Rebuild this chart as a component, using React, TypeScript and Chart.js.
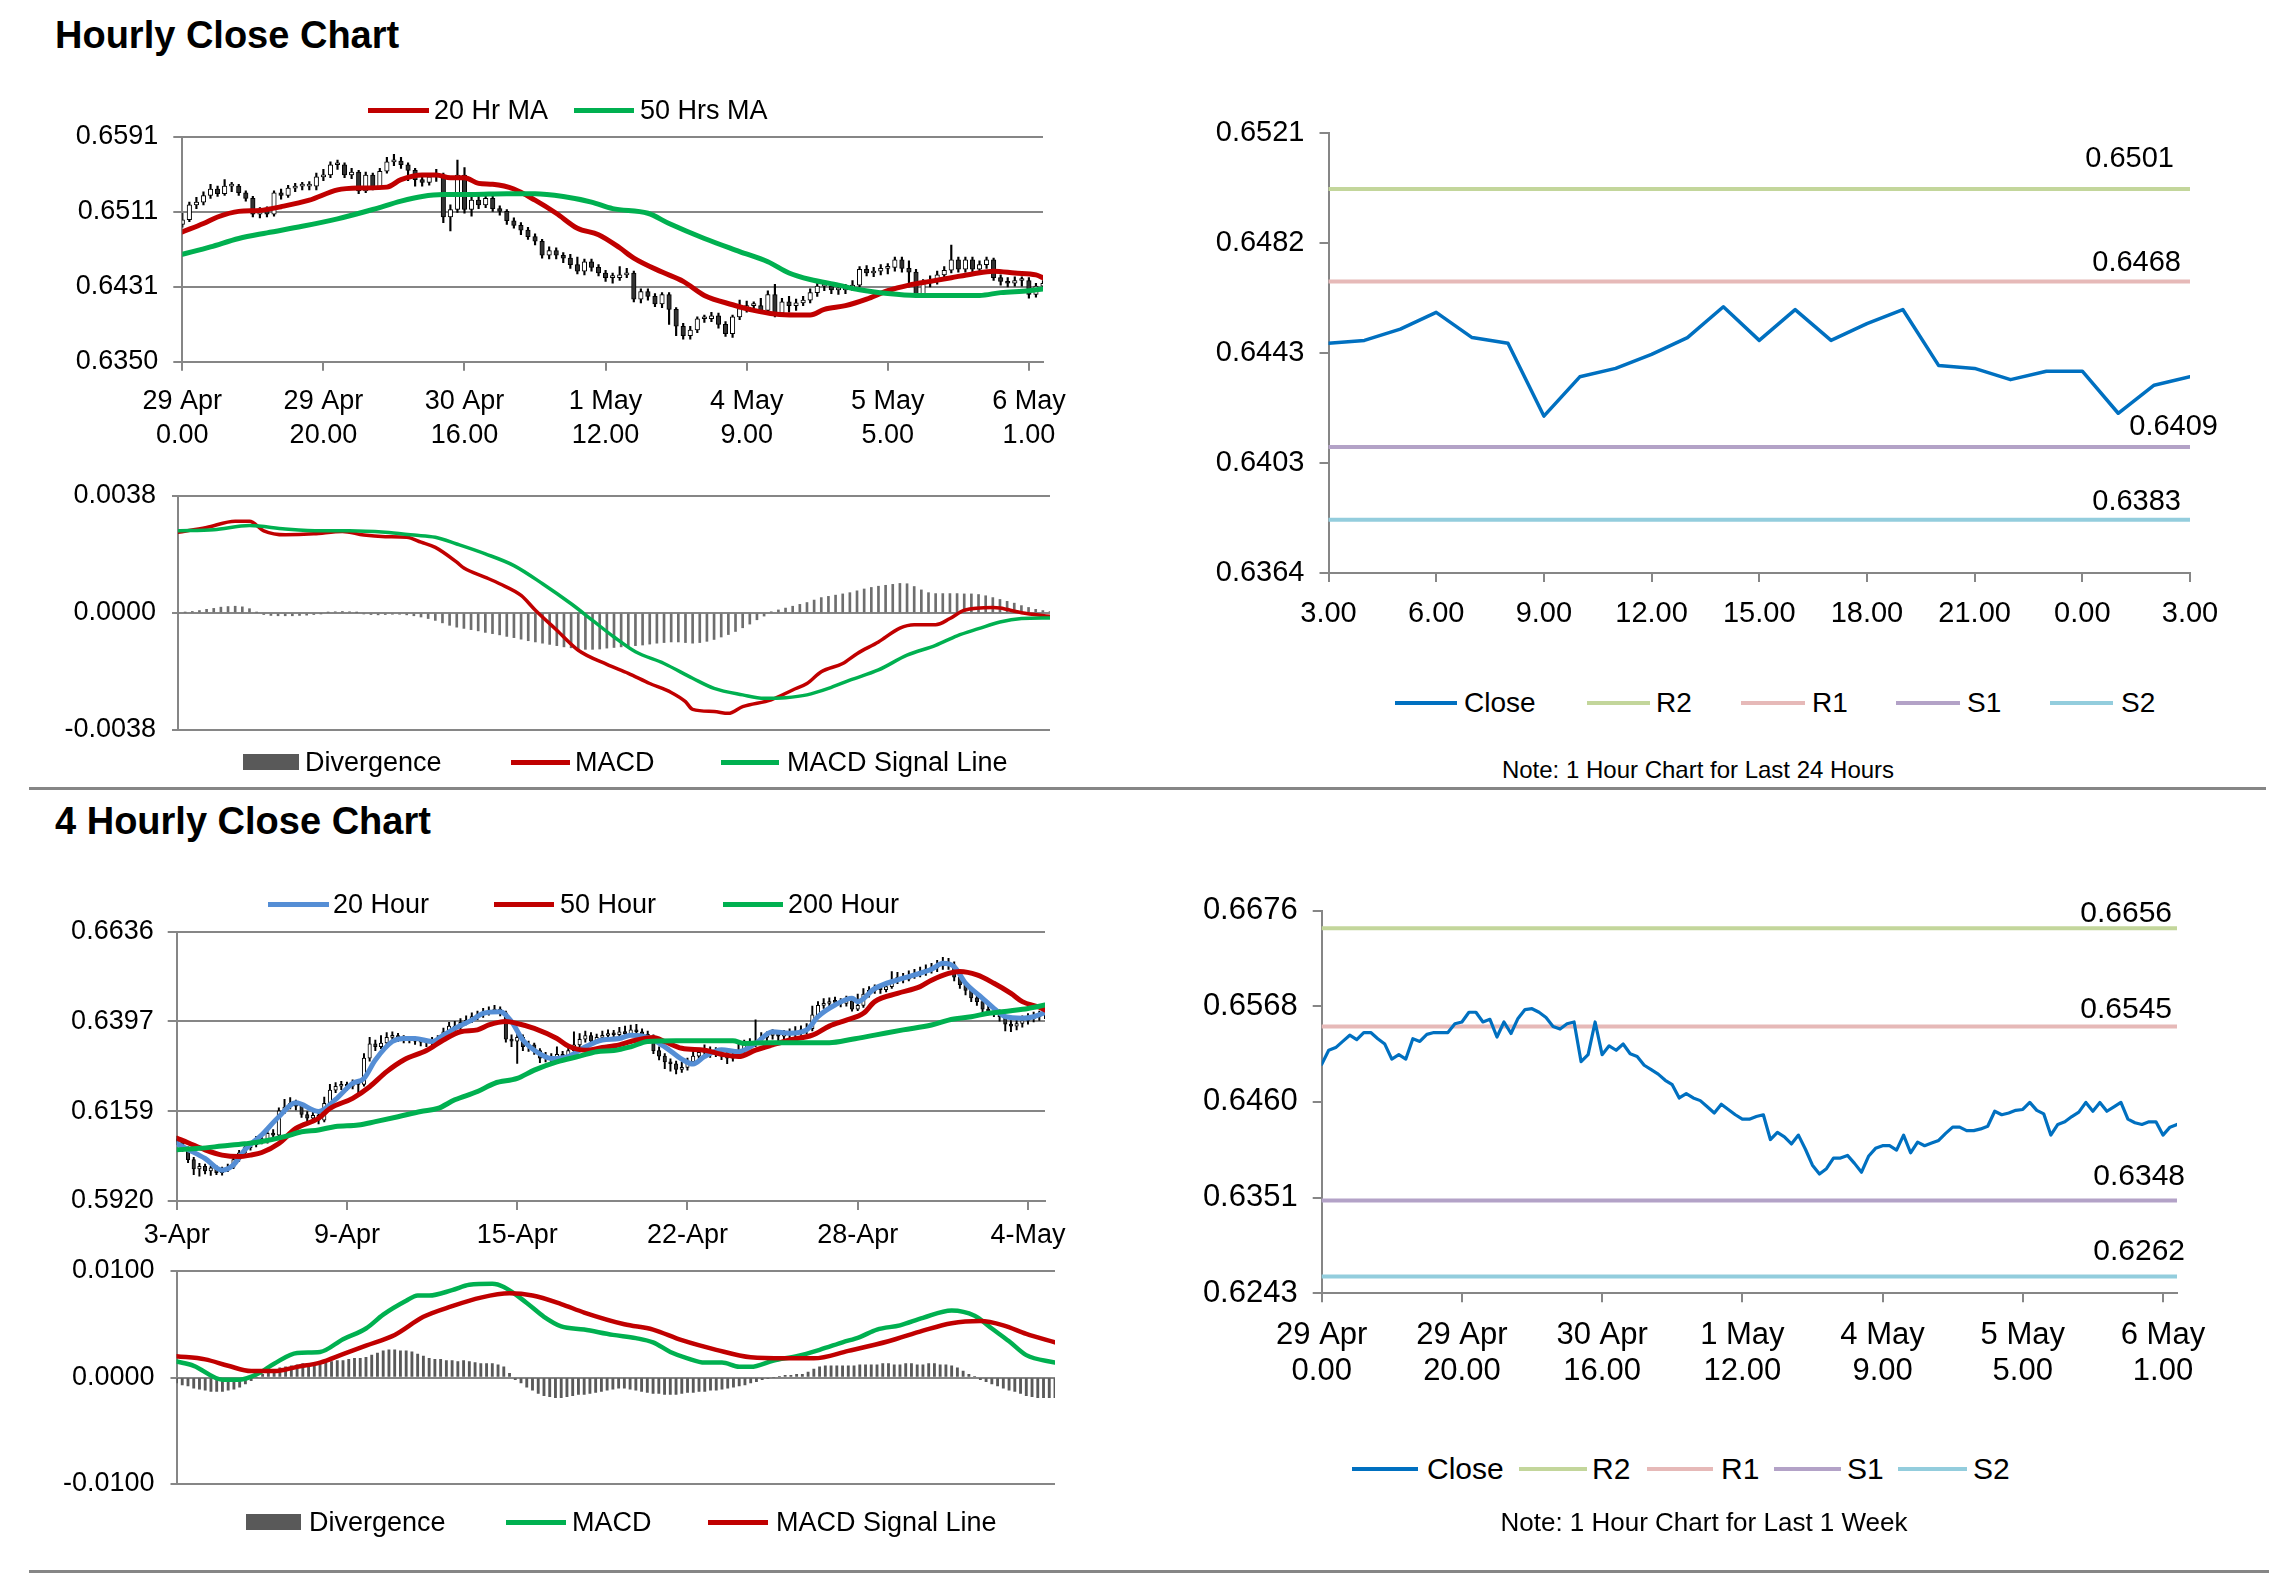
import React, { useEffect, useRef } from "react";
import { Chart, registerables } from "chart.js";

Chart.register(...registerables);

const FONT = '"Liberation Sans", Arial, Helvetica, sans-serif';
Chart.defaults.font.family = FONT;
Chart.defaults.color = "#000";

const GRID = "#868686";
const RED = "#C00000";
const GREEN = "#00B050";
const BLUE_MA = "#558ED5";
const CLOSE_BLUE = "#0070C0";
const LEVEL_COLORS = ["#C3D69B", "#E6B9B8", "#B3A2C7", "#93CDDD"];
const LEVEL_NAMES = ["R2", "R1", "S1", "S2"];

// ================= HOURLY (29 Apr 0:00 .. 6 May 3:00) =================
const hourlyTickIdx = [0, 20, 40, 60, 80, 100, 120];
const hourlyTickLabels = [
  ["29 Apr", "0.00"], ["29 Apr", "20.00"], ["30 Apr", "16.00"], ["1 May", "12.00"],
  ["4 May", "9.00"], ["5 May", "5.00"], ["6 May", "1.00"],
];
const hourlyYTicks = ["0.6350", "0.6431", "0.6511", "0.6591"];
const hourlyFirstOpen = 0.6497;
const hourlyClose = [
  0.6502, 0.6518, 0.6521, 0.6528, 0.6535, 0.6530, 0.6538, 0.6538, 0.6531, 0.6525,
  0.6508, 0.6513, 0.6508, 0.6531, 0.6528, 0.6536, 0.6538, 0.6538, 0.6538, 0.6548,
  0.6550, 0.6561, 0.6561, 0.6550, 0.6553, 0.6533, 0.6550, 0.6537, 0.6554, 0.6564,
  0.6565, 0.6561, 0.6555, 0.6545, 0.6542, 0.6548, 0.6550, 0.6505, 0.6513, 0.6550,
  0.6513, 0.6523, 0.6518, 0.6525, 0.6514, 0.6511, 0.6501, 0.6496, 0.6491, 0.6484,
  0.6479, 0.6464, 0.6469, 0.6464, 0.6461, 0.6454, 0.6447, 0.6457, 0.6451, 0.6445,
  0.6440, 0.6440, 0.6443, 0.6445, 0.6417, 0.6425, 0.6420, 0.6412, 0.6422, 0.6406,
  0.6388, 0.6378, 0.6384, 0.6396, 0.6396, 0.6399, 0.6390, 0.6380, 0.6398, 0.6407,
  0.6410, 0.6410, 0.6405, 0.6422, 0.6402, 0.6414, 0.6410, 0.6413, 0.6416, 0.6424,
  0.6431, 0.6431, 0.6427, 0.6427, 0.6429, 0.6432, 0.6449, 0.6445, 0.6447, 0.6450,
  0.6451, 0.6459, 0.6450, 0.6446, 0.6422, 0.6434, 0.6437, 0.6443, 0.6448, 0.6459,
  0.6449, 0.6459, 0.6449, 0.6454, 0.6459, 0.6440, 0.6436, 0.6434, 0.6437, 0.6437,
  0.6422, 0.6431, 0.6434,
];
const hourlyHigh = [
  0.6509, 0.6521, 0.6526, 0.6532, 0.6540, 0.6538, 0.6545, 0.6542, 0.6540, 0.6533,
  0.6527, 0.6515, 0.6516, 0.6533, 0.6535, 0.6539, 0.6541, 0.6542, 0.6543, 0.6552,
  0.6556, 0.6564, 0.6566, 0.6563, 0.6557, 0.6555, 0.6553, 0.6552, 0.6557, 0.6569,
  0.6572, 0.6569, 0.6563, 0.6557, 0.6549, 0.6551, 0.6556, 0.6552, 0.6518, 0.6566,
  0.6558, 0.6529, 0.6527, 0.6528, 0.6527, 0.6517, 0.6513, 0.6504, 0.6499, 0.6494,
  0.6487, 0.6481, 0.6473, 0.6472, 0.6467, 0.6465, 0.6462, 0.6460, 0.6460, 0.6454,
  0.6448, 0.6445, 0.6452, 0.6450, 0.6447, 0.6428, 0.6428, 0.6423, 0.6424, 0.6424,
  0.6408, 0.6391, 0.6388, 0.6398, 0.6400, 0.6403, 0.6402, 0.6393, 0.6400, 0.6416,
  0.6415, 0.6414, 0.6418, 0.6426, 0.6433, 0.6418, 0.6420, 0.6417, 0.6420, 0.6428,
  0.6434, 0.6436, 0.6434, 0.6432, 0.6433, 0.6437, 0.6452, 0.6453, 0.6451, 0.6454,
  0.6455, 0.6462, 0.6462, 0.6458, 0.6449, 0.6438, 0.6442, 0.6447, 0.6452, 0.6475,
  0.6462, 0.6462, 0.6462, 0.6458, 0.6462, 0.6461, 0.6443, 0.6440, 0.6441, 0.6441,
  0.6440, 0.6434, 0.6437,
];
const hourlyLow = [
  0.6494, 0.6500, 0.6514, 0.6518, 0.6525, 0.6527, 0.6528, 0.6532, 0.6528, 0.6522,
  0.6505, 0.6504, 0.6505, 0.6506, 0.6524, 0.6526, 0.6532, 0.6534, 0.6534, 0.6534,
  0.6544, 0.6547, 0.6556, 0.6547, 0.6546, 0.6530, 0.6531, 0.6534, 0.6535, 0.6552,
  0.6560, 0.6557, 0.6544, 0.6538, 0.6538, 0.6539, 0.6543, 0.6499, 0.6490, 0.6510,
  0.6509, 0.6506, 0.6514, 0.6515, 0.6511, 0.6507, 0.6497, 0.6493, 0.6486, 0.6481,
  0.6475, 0.6461, 0.6460, 0.6460, 0.6456, 0.6450, 0.6444, 0.6443, 0.6447, 0.6442,
  0.6436, 0.6434, 0.6437, 0.6440, 0.6414, 0.6413, 0.6416, 0.6409, 0.6408, 0.6390,
  0.6378, 0.6374, 0.6374, 0.6381, 0.6392, 0.6393, 0.6386, 0.6377, 0.6376, 0.6395,
  0.6403, 0.6404, 0.6402, 0.6402, 0.6398, 0.6400, 0.6403, 0.6405, 0.6410, 0.6413,
  0.6420, 0.6426, 0.6423, 0.6422, 0.6423, 0.6426, 0.6430, 0.6442, 0.6441, 0.6443,
  0.6444, 0.6447, 0.6446, 0.6430, 0.6419, 0.6420, 0.6430, 0.6433, 0.6440, 0.6445,
  0.6446, 0.6446, 0.6445, 0.6446, 0.6450, 0.6437, 0.6432, 0.6430, 0.6431, 0.6431,
  0.6418, 0.6419, 0.6428,
];
const ma20HIdx = [0, 3, 5, 8, 11, 14, 18, 22, 25, 29, 31, 34, 36, 38, 40, 42, 44, 47, 50, 53, 56, 59, 62, 64, 68, 71, 74, 78, 81, 84, 87, 89, 91, 94, 97, 100, 103, 106, 109, 112, 115, 118, 121, 122];
const ma20HVal = [0.6489, 0.6498, 0.6505, 0.6511, 0.6512, 0.6516, 0.6523, 0.6534, 0.6536, 0.6537, 0.6545, 0.6550, 0.6550, 0.6547, 0.6547, 0.6541, 0.6540, 0.6535, 0.6523, 0.6509, 0.6493, 0.6486, 0.6472, 0.6461, 0.6446, 0.6436, 0.6421, 0.6411, 0.6405, 0.6401, 0.6400, 0.6400, 0.6406, 0.6410, 0.6417, 0.6426, 0.6432, 0.6436, 0.6440, 0.6444, 0.6447, 0.6445, 0.6443, 0.6440];
const ma50HIdx = [0, 4, 8, 12, 17, 22, 27, 31, 34, 37, 41, 46, 50, 54, 58, 61, 66, 69, 74, 79, 83, 86, 89, 93, 96, 100, 104, 108, 113, 116, 120, 122];
const ma50HVal = [0.6465, 0.6473, 0.6482, 0.6488, 0.6495, 0.6503, 0.6513, 0.6522, 0.6527, 0.6529, 0.6529, 0.6530, 0.6530, 0.6527, 0.6521, 0.6514, 0.6509, 0.6498, 0.6482, 0.6468, 0.6457, 0.6445, 0.6438, 0.6432, 0.6427, 0.6423, 0.6421, 0.6421, 0.6421, 0.6424, 0.6426, 0.6428];

const macdHYTicks = ["-0.0038", "0.0000", "0.0038"];
const macdHIdx = [0, 4, 8, 10, 12, 15, 19, 23, 26, 29, 32, 34, 36, 39, 40, 43, 45, 48, 50, 53, 56, 60, 63, 66, 69, 71, 72, 75, 77, 79, 83, 86, 88, 90, 93, 95, 98, 101, 103, 106, 108, 110, 114, 115, 118, 122];
const macdHVal = [0.00262, 0.00278, 0.00298, 0.00298, 0.00267, 0.00254, 0.00257, 0.00265, 0.00253, 0.00248, 0.00246, 0.00230, 0.00213, 0.00165, 0.00146, 0.00116, 0.00095, 0.00057, 0.00009, -0.00056, -0.00121, -0.00167, -0.00196, -0.00229, -0.00258, -0.00288, -0.00313, -0.00320, -0.00326, -0.00304, -0.00282, -0.00250, -0.00229, -0.00191, -0.00164, -0.00132, -0.00094, -0.00049, -0.00038, -0.00038, -0.00018, 0.00009, 0.00018, 0.00016, 0.00001, -0.00011];
const signalHIdx = [0, 5, 10, 15, 20, 24, 29, 33, 36, 39, 43, 47, 51, 55, 58, 61, 64, 68, 72, 75, 79, 82, 85, 88, 91, 94, 98, 102, 106, 109, 112, 115, 118, 122];
const signalHVal = [0.00267, 0.00270, 0.00284, 0.00273, 0.00267, 0.00267, 0.00262, 0.00253, 0.00246, 0.00224, 0.00192, 0.00154, 0.00095, 0.00030, -0.00024, -0.00078, -0.00126, -0.00164, -0.00212, -0.00245, -0.00266, -0.00277, -0.00275, -0.00266, -0.00245, -0.00218, -0.00185, -0.00137, -0.00105, -0.00074, -0.00051, -0.00029, -0.00018, -0.00016];
const divergenceH = [
  0.00000, 0.00002, 0.00005, 0.00008, 0.00012, 0.00015, 0.00019, 0.00021, 0.00022, 0.00020,
  0.00014, 0.00002, -0.00005, -0.00008, -0.00009, -0.00009, -0.00009, -0.00008, -0.00007, -0.00005,
  -0.00002, 0.00002, 0.00004, 0.00005, 0.00004, 0.00001, -0.00003, -0.00005, -0.00006, -0.00005,
  -0.00004, -0.00004, -0.00006, -0.00009, -0.00013, -0.00018, -0.00024, -0.00032, -0.00040, -0.00046,
  -0.00050, -0.00054, -0.00058, -0.00063, -0.00067, -0.00071, -0.00076, -0.00080, -0.00085, -0.00090,
  -0.00094, -0.00098, -0.00102, -0.00106, -0.00110, -0.00113, -0.00116, -0.00118, -0.00118, -0.00117,
  -0.00114, -0.00112, -0.00110, -0.00108, -0.00106, -0.00104, -0.00101, -0.00098, -0.00096, -0.00094,
  -0.00094, -0.00096, -0.00098, -0.00096, -0.00092, -0.00086, -0.00078, -0.00070, -0.00060, -0.00048,
  -0.00036, -0.00022, -0.00010, 0.00004, 0.00010, 0.00016, 0.00022, 0.00028, 0.00034, 0.00042,
  0.00050, 0.00054, 0.00058, 0.00062, 0.00066, 0.00072, 0.00078, 0.00083, 0.00087, 0.00090,
  0.00093, 0.00096, 0.00095, 0.00086, 0.00075, 0.00066, 0.00063, 0.00063, 0.00063, 0.00063,
  0.00062, 0.00062, 0.00060, 0.00056, 0.00050, 0.00044, 0.00038, 0.00032, 0.00024, 0.00018,
  0.00012, 0.00008, 0.00005,
];

// ================= LAST 24 HOURS =================
const last24Hours = ["3.00", "4.00", "5.00", "6.00", "7.00", "8.00", "9.00", "10.00", "11.00", "12.00", "13.00", "14.00", "15.00", "16.00", "17.00", "18.00", "19.00", "20.00", "21.00", "22.00", "23.00", "0.00", "1.00", "2.00", "3.00"];
const last24TickIdx = [0, 3, 6, 9, 12, 15, 18, 21, 24];
const close24 = [0.6446, 0.6447, 0.6451, 0.6457, 0.6448, 0.6446, 0.6420, 0.6434, 0.6437, 0.6442, 0.6448, 0.6459, 0.6447, 0.6458, 0.6447, 0.6453, 0.6458, 0.6438, 0.6437, 0.6433, 0.6436, 0.6436, 0.6421, 0.6431, 0.6434];
const levels24 = [0.6501, 0.6468, 0.6409, 0.6383];
const y24Ticks = ["0.6364", "0.6403", "0.6443", "0.6482", "0.6521"];

// ================= LAST WEEK (hourly close) =================
const levelsWeek = [0.6656, 0.6545, 0.6348, 0.6262];
const yWeekTicks = ["0.6243", "0.6351", "0.6460", "0.6568", "0.6676"];

// ================= 4 HOURLY (3 Apr .. 5 May) =================
const fourTickIdx = [0, 30, 60, 90, 120, 150];
const fourTickLabels = ["3-Apr", "9-Apr", "15-Apr", "22-Apr", "28-Apr", "4-May"];
const fourYTicks = ["0.5920", "0.6159", "0.6397", "0.6636"];
const fourFirstOpen = 0.6085;
const fourClose = [
  0.6078, 0.6060, 0.6030, 0.6005, 0.6012, 0.6000, 0.6008, 0.5995, 0.6003, 0.6010,
  0.6030, 0.6048, 0.6062, 0.6070, 0.6085, 0.6080, 0.6100, 0.6095, 0.6160, 0.6170,
  0.6180, 0.6172, 0.6150, 0.6140, 0.6148, 0.6135, 0.6180, 0.6215, 0.6225, 0.6230,
  0.6225, 0.6235, 0.6230, 0.6300, 0.6338, 0.6330, 0.6340, 0.6355, 0.6360, 0.6352,
  0.6348, 0.6350, 0.6345, 0.6342, 0.6340, 0.6345, 0.6350, 0.6370, 0.6385, 0.6380,
  0.6395, 0.6400, 0.6410, 0.6415, 0.6420, 0.6425, 0.6430, 0.6420, 0.6350, 0.6345,
  0.6355, 0.6330, 0.6335, 0.6320, 0.6300, 0.6305, 0.6298, 0.6310, 0.6300, 0.6320,
  0.6335, 0.6350, 0.6360, 0.6345, 0.6355, 0.6360, 0.6365, 0.6362, 0.6370, 0.6365,
  0.6375, 0.6370, 0.6362, 0.6358, 0.6320, 0.6305, 0.6290, 0.6285, 0.6270, 0.6275,
  0.6290, 0.6305, 0.6315, 0.6320, 0.6312, 0.6318, 0.6305, 0.6300, 0.6310, 0.6320,
  0.6335, 0.6340, 0.6345, 0.6355, 0.6360, 0.6365, 0.6358, 0.6362, 0.6365, 0.6370,
  0.6372, 0.6378, 0.6415, 0.6440, 0.6445, 0.6450, 0.6448, 0.6445, 0.6452, 0.6430,
  0.6440, 0.6470, 0.6480, 0.6485, 0.6482, 0.6490, 0.6505, 0.6515, 0.6510, 0.6520,
  0.6525, 0.6530, 0.6535, 0.6540, 0.6545, 0.6552, 0.6548, 0.6515, 0.6495, 0.6480,
  0.6460, 0.6450, 0.6430, 0.6425, 0.6420, 0.6410, 0.6390, 0.6385, 0.6392, 0.6400,
  0.6405, 0.6410, 0.6415, 0.6425,
];
const fourHigh = [
  0.6092, 0.6082, 0.6064, 0.6036, 0.6020, 0.6018, 0.6012, 0.6014, 0.6010, 0.6018,
  0.6036, 0.6055, 0.6070, 0.6078, 0.6092, 0.6096, 0.6108, 0.6110, 0.6168, 0.6190,
  0.6195, 0.6188, 0.6178, 0.6158, 0.6156, 0.6154, 0.6196, 0.6230, 0.6235, 0.6238,
  0.6236, 0.6242, 0.6240, 0.6312, 0.6355, 0.6348, 0.6360, 0.6368, 0.6370, 0.6366,
  0.6360, 0.6358, 0.6356, 0.6352, 0.6350, 0.6355, 0.6360, 0.6380, 0.6395, 0.6398,
  0.6405, 0.6412, 0.6420, 0.6425, 0.6432, 0.6436, 0.6440, 0.6436, 0.6425, 0.6362,
  0.6365, 0.6362, 0.6345, 0.6340, 0.6325, 0.6315, 0.6312, 0.6330, 0.6318, 0.6328,
  0.6370, 0.6365, 0.6372, 0.6368, 0.6364, 0.6372, 0.6375, 0.6374, 0.6382, 0.6385,
  0.6388, 0.6390, 0.6378, 0.6372, 0.6362, 0.6330, 0.6312, 0.6298, 0.6292, 0.6290,
  0.6300, 0.6318, 0.6325, 0.6335, 0.6330, 0.6328, 0.6325, 0.6316, 0.6320, 0.6345,
  0.6348, 0.6352, 0.6402, 0.6368, 0.6370, 0.6376, 0.6372, 0.6374, 0.6378, 0.6384,
  0.6386, 0.6392, 0.6438, 0.6450, 0.6458, 0.6460, 0.6462, 0.6458, 0.6465, 0.6458,
  0.6470, 0.6485, 0.6490, 0.6495, 0.6494, 0.6502, 0.6530, 0.6528, 0.6525, 0.6532,
  0.6536, 0.6542, 0.6548, 0.6552, 0.6560, 0.6568, 0.6565, 0.6556, 0.6522, 0.6502,
  0.6488, 0.6470, 0.6458, 0.6440, 0.6435, 0.6428, 0.6415, 0.6400, 0.6408, 0.6412,
  0.6418, 0.6422, 0.6425, 0.6432,
];
const fourLow = [
  0.6070, 0.6052, 0.6022, 0.5990, 0.5986, 0.5992, 0.5988, 0.5990, 0.5989, 0.5998,
  0.6006, 0.6025, 0.6042, 0.6055, 0.6064, 0.6072, 0.6074, 0.6088, 0.6090, 0.6152,
  0.6165, 0.6162, 0.6142, 0.6130, 0.6132, 0.6125, 0.6130, 0.6175, 0.6208, 0.6216,
  0.6214, 0.6218, 0.6205, 0.6225, 0.6292, 0.6320, 0.6325, 0.6335, 0.6348, 0.6344,
  0.6340, 0.6340, 0.6336, 0.6332, 0.6330, 0.6334, 0.6338, 0.6345, 0.6362, 0.6372,
  0.6375, 0.6388, 0.6394, 0.6402, 0.6408, 0.6414, 0.6418, 0.6412, 0.6342, 0.6330,
  0.6286, 0.6320, 0.6318, 0.6310, 0.6288, 0.6290, 0.6288, 0.6290, 0.6292, 0.6294,
  0.6312, 0.6328, 0.6342, 0.6338, 0.6338, 0.6348, 0.6352, 0.6352, 0.6355, 0.6356,
  0.6358, 0.6360, 0.6352, 0.6345, 0.6312, 0.6295, 0.6272, 0.6265, 0.6258, 0.6262,
  0.6268, 0.6284, 0.6296, 0.6306, 0.6302, 0.6304, 0.6296, 0.6285, 0.6292, 0.6304,
  0.6314, 0.6328, 0.6330, 0.6338, 0.6345, 0.6350, 0.6346, 0.6348, 0.6352, 0.6356,
  0.6360, 0.6364, 0.6372, 0.6408, 0.6432, 0.6436, 0.6438, 0.6436, 0.6438, 0.6425,
  0.6426, 0.6435, 0.6462, 0.6472, 0.6472, 0.6476, 0.6485, 0.6498, 0.6500, 0.6505,
  0.6512, 0.6516, 0.6520, 0.6526, 0.6530, 0.6536, 0.6536, 0.6505, 0.6485, 0.6468,
  0.6450, 0.6440, 0.6420, 0.6415, 0.6410, 0.6398, 0.6372, 0.6370, 0.6375, 0.6382,
  0.6390, 0.6396, 0.6400, 0.6405,
];
const ma20FIdx = [0, 2, 5, 8, 10, 12, 15, 18, 21, 25, 28, 31, 33, 35, 38, 40, 42, 45, 47, 49, 52, 54, 57, 59, 61, 64, 66, 69, 72, 75, 78, 80, 83, 86, 89, 91, 93, 96, 99, 102, 105, 108, 111, 113, 116, 119, 120, 123, 127, 130, 133, 135, 137, 139, 142, 144, 146, 149, 151, 153];
const ma20FVal = [0.6073, 0.6057, 0.6033, 0.6002, 0.6016, 0.6056, 0.6096, 0.6144, 0.6181, 0.6158, 0.6190, 0.6233, 0.6246, 0.6295, 0.6344, 0.6352, 0.6352, 0.6344, 0.6361, 0.6379, 0.6401, 0.6419, 0.6423, 0.6397, 0.6348, 0.6311, 0.6299, 0.6304, 0.6330, 0.6348, 0.6352, 0.6361, 0.6355, 0.6330, 0.6297, 0.6284, 0.6304, 0.6322, 0.6317, 0.6339, 0.6370, 0.6366, 0.6375, 0.6410, 0.6441, 0.6459, 0.6450, 0.6485, 0.6508, 0.6521, 0.6536, 0.6552, 0.6543, 0.6499, 0.6459, 0.6432, 0.6410, 0.6406, 0.6410, 0.6421];
const ma50FIdx = [0, 2, 5, 8, 11, 13, 15, 18, 21, 25, 27, 31, 34, 37, 40, 44, 47, 50, 53, 55, 58, 60, 63, 67, 69, 72, 75, 78, 80, 84, 86, 89, 93, 96, 99, 102, 105, 108, 112, 115, 118, 121, 123, 127, 131, 133, 136, 138, 141, 144, 147, 149, 152, 153];
const ma50FVal = [0.6087, 0.6075, 0.6056, 0.6042, 0.6038, 0.6042, 0.6049, 0.6073, 0.6113, 0.6140, 0.6166, 0.6193, 0.6224, 0.6264, 0.6295, 0.6320, 0.6348, 0.6370, 0.6375, 0.6388, 0.6397, 0.6392, 0.6379, 0.6352, 0.6332, 0.6321, 0.6328, 0.6335, 0.6344, 0.6355, 0.6344, 0.6326, 0.6321, 0.6310, 0.6304, 0.6321, 0.6335, 0.6348, 0.6361, 0.6385, 0.6401, 0.6419, 0.6450, 0.6472, 0.6490, 0.6507, 0.6525, 0.6530, 0.6521, 0.6499, 0.6472, 0.6450, 0.6435, 0.6428];
const ma200FIdx = [0, 4, 8, 12, 15, 19, 22, 25, 28, 32, 35, 39, 43, 46, 49, 53, 56, 60, 63, 67, 71, 74, 77, 80, 83, 88, 94, 98, 100, 104, 109, 115, 119, 123, 128, 133, 136, 140, 143, 147, 150, 153];
const ma200FVal = [0.6056, 0.6060, 0.6066, 0.6072, 0.6078, 0.6091, 0.6104, 0.6109, 0.6118, 0.6122, 0.6131, 0.6144, 0.6158, 0.6166, 0.6189, 0.6211, 0.6233, 0.6246, 0.6268, 0.6290, 0.6305, 0.6317, 0.6320, 0.6330, 0.6344, 0.6346, 0.6346, 0.6346, 0.6339, 0.6341, 0.6341, 0.6341, 0.6350, 0.6361, 0.6375, 0.6388, 0.6401, 0.6410, 0.6419, 0.6426, 0.6432, 0.6441];

const macdFYTicks = ["-0.0100", "0.0000", "0.0100"];
const macdFIdx = [0, 3, 8, 11, 14, 17, 21, 25, 29, 33, 36, 40, 42, 44, 48, 51, 55, 57, 61, 64, 67, 71, 76, 80, 83, 86, 89, 92, 95, 98, 100, 104, 108, 112, 116, 119, 122, 126, 130, 135, 139, 142, 145, 148, 153];
const macdFVal = [0.0015, 0.0011, -0.0002, -0.0002, 0.0003, 0.0013, 0.0023, 0.0024, 0.0036, 0.0046, 0.0059, 0.0072, 0.0077, 0.0077, 0.0082, 0.0087, 0.0088, 0.0085, 0.0070, 0.0057, 0.0048, 0.0045, 0.0040, 0.0037, 0.0033, 0.0024, 0.0018, 0.0014, 0.0014, 0.0010, 0.0010, 0.0016, 0.0020, 0.0026, 0.0033, 0.0038, 0.0045, 0.0049, 0.0056, 0.0063, 0.0058, 0.0046, 0.0034, 0.0021, 0.0014];
const signalFIdx = [0, 5, 9, 13, 17, 21, 25, 29, 33, 38, 43, 48, 53, 58, 62, 67, 71, 78, 83, 88, 94, 100, 106, 111, 117, 124, 130, 135, 140, 144, 148, 153];
const signalFVal = [0.0020, 0.0017, 0.0011, 0.0006, 0.0006, 0.0010, 0.0014, 0.0022, 0.0030, 0.0040, 0.0057, 0.0067, 0.0075, 0.0079, 0.0077, 0.0069, 0.0061, 0.0050, 0.0045, 0.0035, 0.0026, 0.0019, 0.0018, 0.0018, 0.0025, 0.0034, 0.0044, 0.0051, 0.0053, 0.0049, 0.0041, 0.0033];
const divergenceF = [
  -0.0005, -0.0007, -0.0008, -0.0010, -0.0011, -0.0012, -0.0013, -0.0013, -0.0013, -0.0012,
  -0.0011, -0.0009, -0.0006, -0.0003, 0.0000, 0.0003, 0.0005, 0.0007, 0.0009, 0.0010,
  0.0011, 0.0012, 0.0013, 0.0012, 0.0012, 0.0013, 0.0014, 0.0015, 0.0016, 0.0016,
  0.0017, 0.0018, 0.0018, 0.0019, 0.0021, 0.0023, 0.0025, 0.0026, 0.0026, 0.0025,
  0.0025, 0.0024, 0.0022, 0.0020, 0.0018, 0.0017, 0.0017, 0.0016, 0.0016, 0.0015,
  0.0016, 0.0015, 0.0014, 0.0013, 0.0013, 0.0013, 0.0012, 0.0010, 0.0004, -0.0002,
  -0.0005, -0.0009, -0.0012, -0.0015, -0.0017, -0.0018, -0.0019, -0.0019, -0.0018, -0.0017,
  -0.0016, -0.0016, -0.0015, -0.0014, -0.0013, -0.0012, -0.0011, -0.0010, -0.0010, -0.0011,
  -0.0012, -0.0013, -0.0014, -0.0015, -0.0015, -0.0016, -0.0016, -0.0016, -0.0015, -0.0014,
  -0.0014, -0.0013, -0.0013, -0.0012, -0.0012, -0.0011, -0.0010, -0.0009, -0.0008, -0.0007,
  -0.0005, -0.0004, -0.0002, -0.0001, 0.0000, 0.0001, 0.0002, 0.0002, 0.0003, 0.0003,
  0.0005, 0.0008, 0.0010, 0.0011, 0.0011, 0.0011, 0.0011, 0.0011, 0.0011, 0.0012,
  0.0012, 0.0012, 0.0012, 0.0013, 0.0013, 0.0012, 0.0012, 0.0013, 0.0013, 0.0012,
  0.0012, 0.0013, 0.0013, 0.0012, 0.0012, 0.0011, 0.0009, 0.0006, 0.0003, 0.0001,
  -0.0002, -0.0004, -0.0006, -0.0008, -0.0010, -0.0012, -0.0013, -0.0015, -0.0017, -0.0018,
  -0.0019, -0.0019, -0.0019, -0.0019,
];

// ================= helpers =================
const pts = (idx: number[], val: number[]) => idx.map((x, k) => ({ x, y: val[k] }));
const seq = (val: number[]) => val.map((y, x) => ({ x, y }));

function yAxis(labels: string[], o: any) {
  const vals = labels.map(Number);
  const min = vals[0];
  const max = vals[vals.length - 1];
  return {
    type: "linear",
    position: "left",
    min,
    max,
    beginAtZero: false,
    afterBuildTicks: (s: any) => {
      s.ticks = labels.map((_l, k) => ({ value: min + ((max - min) * k) / (labels.length - 1) }));
    },
    afterFit: (s: any) => {
      s.width = o.width;
    },
    ticks: {
      autoSkip: false,
      padding: o.pad,
      color: "#000",
      font: { family: FONT, size: o.font },
      callback: (_v: any, k: number) => labels[k],
    },
    grid: {
      drawOnChartArea: o.grid,
      drawTicks: true,
      tickLength: o.tick,
      color: GRID,
      tickColor: GRID,
      lineWidth: 2,
      tickWidth: 2,
    },
    border: { display: true, color: GRID, width: 2 },
  };
}

function xAxis(n: number, tickIdx: number[], labels: any[], o: any) {
  return {
    type: "linear",
    min: 0,
    max: n - 1,
    offset: false,
    afterBuildTicks: (s: any) => {
      s.ticks = tickIdx.map((v) => ({ value: v }));
    },
    afterFit: (s: any) => {
      s.height = o.height;
    },
    ticks: {
      autoSkip: false,
      maxRotation: 0,
      minRotation: 0,
      padding: o.pad,
      color: "#000",
      font: { family: FONT, size: o.font, lineHeight: o.lh },
      callback: (_v: any, k: number) => labels[k],
    },
    grid: {
      offset: false,
      drawOnChartArea: false,
      drawTicks: true,
      tickLength: o.tick,
      color: GRID,
      tickColor: GRID,
      lineWidth: 2,
      tickWidth: 2,
    },
    border: { display: true, color: GRID, width: 2 },
  };
}

const hiddenX = (n: number) => ({ type: "linear", min: 0, max: n - 1, offset: false, display: false, grid: { offset: false } });

function lineSet(data: any[], color: string, width: number, order: number, smooth = true) {
  return {
    type: "line",
    data,
    borderColor: color,
    backgroundColor: color,
    borderWidth: width,
    pointRadius: 0,
    fill: false,
    tension: 0,
    cubicInterpolationMode: smooth ? "monotone" : "default",
    borderJoinStyle: "round",
    borderCapStyle: "round",
    order,
  };
}

function candleSets(close: number[], high: number[], low: number[], firstOpen: number, bodyW: number, wickW: number) {
  const open = close.map((_c, i) => (i === 0 ? firstOpen : close[i - 1]));
  return [
    {
      type: "bar",
      data: close.map((c, i) => ({ x: i, y: [open[i], c] })),
      backgroundColor: close.map((c, i) => (c >= open[i] ? "#FFFFFF" : "#333333")),
      borderColor: "#000000",
      borderWidth: 1,
      borderSkipped: false,
      barThickness: bodyW,
      grouped: false,
      minBarLength: 2,
      order: 1,
    },
    {
      type: "bar",
      data: close.map((_c, i) => ({ x: i, y: [low[i], high[i]] })),
      backgroundColor: "#000000",
      borderWidth: 0,
      barThickness: wickW,
      grouped: false,
      order: 2,
    },
  ];
}

function divergenceSet(vals: number[], color: string, w: number) {
  return { type: "bar", data: seq(vals), backgroundColor: color, borderWidth: 0, barThickness: w, grouped: false, order: 3 };
}

function levelSets(levels: number[], n: number) {
  return levels.map((v, k) => lineSet([{ x: 0, y: v }, { x: n - 1, y: v }], LEVEL_COLORS[k], 4, 1, false));
}

const levelLabelPlugin = {
  id: "levelLabels",
  afterDatasetsDraw(chart: any, _a: any, opts: any) {
    if (!opts || !opts.items) return;
    const { ctx, chartArea, scales } = chart;
    ctx.save();
    ctx.font = `${opts.size}px ${FONT}`;
    ctx.fillStyle = "#000";
    ctx.textAlign = "right";
    ctx.textBaseline = "alphabetic";
    for (const it of opts.items) {
      const y = scales.y.getPixelForValue(it.value);
      ctx.fillText(Number(it.value).toFixed(4), chartArea.right + it.dx, y - it.dy);
    }
    ctx.restore();
  },
};

function baseOptions(padding: any, scales: any, extraPlugins: any = {}) {
  return {
    responsive: false,
    animation: false,
    events: [],
    layout: { padding },
    plugins: { legend: { display: false }, tooltip: { enabled: false }, ...extraPlugins },
    scales,
  };
}

// ================= chart configs =================
const N_H = hourlyClose.length;
const N_F = fourClose.length;

const cfgHourly = () => ({
  type: "bar",
  data: {
    datasets: [
      lineSet(pts(ma50HIdx, ma50HVal), GREEN, 5, 0),
      lineSet(pts(ma20HIdx, ma20HVal), RED, 5, 0),
      ...candleSets(hourlyClose, hourlyHigh, hourlyLow, hourlyFirstOpen, 4.5, 1.5),
    ],
  },
  options: baseOptions(
    { left: 0, top: 46.7, right: 47, bottom: 0 },
    {
      x: xAxis(N_H, hourlyTickIdx, hourlyTickLabels, { height: 108.3, tick: 9, pad: 14, font: 27, lh: 1.26 }),
      y: yAxis(hourlyYTicks, { width: 182.3, grid: true, tick: 9, pad: 15, font: 27 }),
    }
  ),
});

const cfgHourlyMacd = () => ({
  type: "bar",
  data: {
    datasets: [
      lineSet(pts(signalHIdx, signalHVal), GREEN, 3.5, 0),
      lineSet(pts(macdHIdx, macdHVal), RED, 3.5, 1),
      divergenceSet(divergenceH, "#6E6E6E", 2),
    ],
  },
  options: baseOptions(
    { left: 0, top: 43, right: 40, bottom: 38 },
    {
      x: hiddenX(N_H),
      y: yAxis(macdHYTicks, { width: 178, grid: true, tick: 6, pad: 16, font: 27 }),
    }
  ),
});

const cfg24 = () => ({
  type: "line",
  data: {
    datasets: [lineSet(seq(close24), CLOSE_BLUE, 3.5, 0, false), ...levelSets(levels24, close24.length)],
  },
  options: baseOptions(
    { left: 0, top: 53, right: 60, bottom: 0 },
    {
      x: xAxis(close24.length, last24TickIdx, last24TickIdx.map((i) => last24Hours[i]), { height: 67, tick: 9, pad: 15, font: 29, lh: 1.2 }),
      y: yAxis(y24Ticks, { width: 228.5, grid: false, tick: 9, pad: 15, font: 29 }),
    },
    {
      levelLabels: {
        size: 29,
        items: [
          { value: levels24[0], dx: -16, dy: 22 },
          { value: levels24[1], dx: -9, dy: 10.5 },
          { value: levels24[2], dx: 28, dy: 12 },
          { value: levels24[3], dx: -9, dy: 10 },
        ],
      },
    }
  ),
  plugins: [levelLabelPlugin],
});

const cfgFour = () => ({
  type: "bar",
  data: {
    datasets: [
      lineSet(pts(ma200FIdx, ma200FVal), GREEN, 5, 0),
      lineSet(pts(ma50FIdx, ma50FVal), RED, 5, 0),
      lineSet(pts(ma20FIdx, ma20FVal), BLUE_MA, 5, 0),
      ...candleSets(fourClose, fourHigh, fourLow, fourFirstOpen, 3.5, 1.3),
    ],
  },
  options: baseOptions(
    { left: 0, top: 51.7, right: 45, bottom: 0 },
    {
      x: xAxis(N_F, fourTickIdx, fourTickLabels, { height: 59, tick: 9, pad: 9, font: 27, lh: 1.2 }),
      y: yAxis(fourYTicks, { width: 176.7, grid: true, tick: 9, pad: 14, font: 27 }),
    }
  ),
});

const cfgFourMacd = () => ({
  type: "bar",
  data: {
    datasets: [
      lineSet(pts(signalFIdx, signalFVal), RED, 4.5, 0),
      lineSet(pts(macdFIdx, macdFVal), GREEN, 4.5, 1),
      divergenceSet(divergenceF, "#595959", 2.2),
    ],
  },
  options: baseOptions(
    { left: 0, top: 40, right: 35, bottom: 40 },
    {
      x: hiddenX(N_F),
      y: yAxis(macdFYTicks, { width: 176.5, grid: true, tick: 6, pad: 16, font: 27 }),
    }
  ),
});

const cfgWeek = () => ({
  type: "line",
  data: {
    datasets: [lineSet(seq(hourlyClose), CLOSE_BLUE, 3.2, 0, false), ...levelSets(levelsWeek, N_H)],
  },
  options: baseOptions(
    { left: 0, top: 50.6, right: 73, bottom: 0 },
    {
      x: xAxis(N_H, hourlyTickIdx, hourlyTickLabels, { height: 106.7, tick: 9, pad: 15, font: 31, lh: 1.16 }),
      y: yAxis(yWeekTicks, { width: 221.7, grid: false, tick: 9, pad: 15, font: 31 }),
    },
    {
      levelLabels: {
        size: 30,
        items: [
          { value: levelsWeek[0], dx: -5, dy: 6 },
          { value: levelsWeek[1], dx: -5, dy: 8 },
          { value: levelsWeek[2], dx: 8, dy: 15 },
          { value: levelsWeek[3], dx: 8, dy: 17 },
        ],
      },
    }
  ),
  plugins: [levelLabelPlugin],
});

// ================= components =================
function ChartBox({ x, y, w, h, config }: any) {
  const ref = useRef<HTMLCanvasElement | null>(null);
  useEffect(() => {
    const chart = new Chart(ref.current as HTMLCanvasElement, config() as any);
    return () => chart.destroy();
  }, []);
  return (
    <canvas
      ref={ref}
      width={w}
      height={h}
      style={{ position: "absolute", left: x, top: y, width: w, height: h, display: "block" }}
    />
  );
}

function Legend({ cy, size, items }: any) {
  return (
    <>
      {items.map((it: any, k: number) => {
        const th = it.box ? 16 : it.th || 5;
        return (
          <React.Fragment key={k}>
            <div
              style={{
                position: "absolute",
                left: it.x0,
                top: cy - th / 2,
                width: it.x1 - it.x0,
                height: th,
                background: it.color,
              }}
            />
            <div
              style={{
                position: "absolute",
                left: it.tx,
                top: cy - 0.4885 * size,
                fontSize: size,
                lineHeight: `${size}px`,
                fontFamily: FONT,
                whiteSpace: "nowrap",
                color: "#000",
              }}
            >
              {it.text}
            </div>
          </React.Fragment>
        );
      })}
    </>
  );
}

function Title({ text, baseline }: any) {
  return (
    <div
      style={{
        position: "absolute",
        left: 55,
        top: baseline - 32.2,
        fontSize: 38,
        lineHeight: "38px",
        fontWeight: "bold",
        fontFamily: FONT,
        whiteSpace: "nowrap",
        color: "#000",
      }}
    >
      {text}
    </div>
  );
}

function Note({ text, cx, cy, size }: any) {
  return (
    <div
      style={{
        position: "absolute",
        left: cx - 400,
        width: 800,
        textAlign: "center",
        top: cy - 0.4885 * size,
        fontSize: size,
        lineHeight: `${size}px`,
        fontFamily: FONT,
        whiteSpace: "nowrap",
        color: "#000",
      }}
    >
      {text}
    </div>
  );
}

export default function App() {
  const levelLegend = (xs: number[][]) =>
    [{ color: CLOSE_BLUE, text: "Close" }, ...LEVEL_NAMES.map((n, k) => ({ color: LEVEL_COLORS[k], text: n }))].map((it, k) => ({
      ...it,
      x0: xs[k][0],
      x1: xs[k][1],
      tx: xs[k][2],
      th: 4,
    }));

  return (
    <div
      style={{
        position: "absolute",
        left: 0,
        top: 0,
        width: 2291,
        height: 1577,
        background: "#FFFFFF",
        overflow: "hidden",
        fontFamily: FONT,
      }}
    >
      <Title text="Hourly Close Chart" baseline={48.5} />
      <Title text="4 Hourly Close Chart" baseline={834.4} />

      <ChartBox x={0} y={90} w={1090} h={380} config={cfgHourly} />
      <ChartBox x={0} y={453} w={1090} h={315} config={cfgHourlyMacd} />
      <ChartBox x={1100} y={80} w={1150} h={560} config={cfg24} />
      <ChartBox x={0} y={880} w={1090} h={380} config={cfgFour} />
      <ChartBox x={0} y={1231} w={1090} h={293} config={cfgFourMacd} />
      <ChartBox x={1100} y={860} w={1150} h={540} config={cfgWeek} />

      <Legend
        cy={110}
        size={27}
        items={[
          { color: RED, x0: 368, x1: 429, tx: 434, text: "20 Hr MA" },
          { color: GREEN, x0: 574, x1: 634, tx: 640, text: "50 Hrs MA" },
        ]}
      />
      <Legend
        cy={762}
        size={27}
        items={[
          { box: true, color: "#595959", x0: 243, x1: 299, tx: 305, text: "Divergence" },
          { color: RED, x0: 511, x1: 570, tx: 575, text: "MACD" },
          { color: GREEN, x0: 721, x1: 779, tx: 787, text: "MACD Signal Line" },
        ]}
      />
      <Legend
        cy={703}
        size={28}
        items={levelLegend([
          [1395, 1457, 1464],
          [1587, 1650, 1656],
          [1741, 1805, 1812],
          [1896, 1960, 1967],
          [2050, 2113, 2121],
        ])}
      />
      <Note text="Note: 1 Hour Chart for Last 24 Hours" cx={1698} cy={770} size={24} />

      <Legend
        cy={904}
        size={27}
        items={[
          { color: BLUE_MA, x0: 268, x1: 329, tx: 333, text: "20 Hour" },
          { color: RED, x0: 494, x1: 554, tx: 560, text: "50 Hour" },
          { color: GREEN, x0: 723, x1: 783, tx: 788, text: "200 Hour" },
        ]}
      />
      <Legend
        cy={1522}
        size={27}
        items={[
          { box: true, color: "#595959", x0: 246, x1: 301, tx: 309, text: "Divergence" },
          { color: GREEN, x0: 506, x1: 566, tx: 572, text: "MACD" },
          { color: RED, x0: 708, x1: 768, tx: 776, text: "MACD Signal Line" },
        ]}
      />
      <Legend
        cy={1469}
        size={30}
        items={levelLegend([
          [1352, 1418, 1427],
          [1519, 1587, 1592],
          [1647, 1713, 1721],
          [1774, 1841, 1847],
          [1898, 1967, 1973],
        ])}
      />
      <Note text="Note: 1 Hour Chart for Last 1 Week" cx={1704} cy={1521.5} size={26} />

      <div style={{ position: "absolute", left: 29, top: 786.5, width: 2237, height: 3, background: GRID }} />
      <div style={{ position: "absolute", left: 29, top: 1570, width: 2240, height: 3, background: GRID }} />
    </div>
  );
}
